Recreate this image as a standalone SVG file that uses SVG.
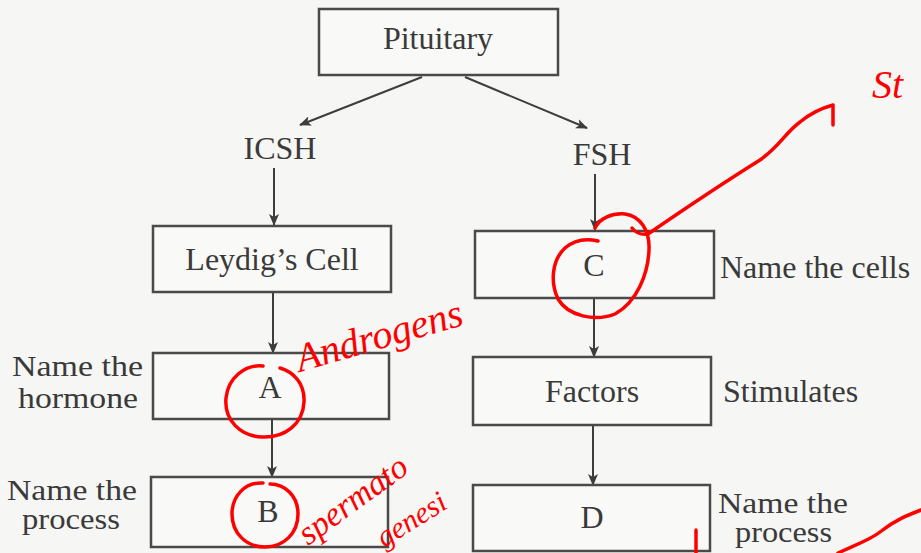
<svg xmlns="http://www.w3.org/2000/svg" width="921" height="553" viewBox="0 0 921 553">
<defs>
<marker id="ah" markerWidth="12" markerHeight="10" refX="11" refY="5" orient="auto" markerUnits="userSpaceOnUse">
<path d="M0,0 L12,5 L0,10 L3,5 Z" fill="#3d3d3d"/>
</marker>
<style>
.box{fill:#f9f9f7;stroke:#4a4a4a;stroke-width:2.5}
.t{font-family:"Liberation Serif","Times New Roman",serif;font-size:32px;fill:#3a3a3a}
.s{font-size:29px}
.c{text-anchor:middle}
.con{stroke:#3d3d3d;stroke-width:2;fill:none;marker-end:url(#ah)}
.red{stroke:#ff0000;stroke-width:3.5;fill:none;stroke-linecap:round;stroke-linejoin:round}
.rt{font-family:"Liberation Serif","Times New Roman",serif;font-style:italic;fill:#ff0000}
</style>
</defs>
<rect width="921" height="553" fill="#f6f6f4"/>

<g id="connectors">
<line class="con" x1="422" y1="77" x2="300" y2="125"/>
<line class="con" x1="465" y1="77" x2="587" y2="128"/>
<line class="con" x1="274" y1="168" x2="274" y2="225"/>
<line class="con" x1="595" y1="174" x2="595" y2="230"/>
<line class="con" x1="273" y1="292" x2="273" y2="353"/>
<line class="con" x1="594" y1="298" x2="594" y2="357"/>
<line class="con" x1="272" y1="419" x2="272" y2="477"/>
<line class="con" x1="593" y1="425" x2="593" y2="485"/>
</g>

<g id="pituitary">
<rect class="box" x="319" y="9" width="239" height="66"/>
<text class="t c" x="438" y="49">Pituitary</text>
</g>
<g id="icsh"><text class="t c" x="280" y="159">ICSH</text></g>
<g id="fsh"><text class="t c" x="602" y="165">FSH</text></g>

<g id="leydig">
<rect class="box" x="153" y="226" width="238" height="66"/>
<text class="t c" x="272" y="270">Leydig’s Cell</text>
</g>
<g id="nodeA">
<rect class="box" x="153" y="353" width="236" height="66"/>
<text class="t c" x="270" y="398">A</text>
</g>
<g id="nodeB">
<rect class="box" x="151" y="477" width="237" height="70"/>
<text class="t c" x="268" y="522">B</text>
</g>
<g id="nodeC">
<rect class="box" x="475" y="231" width="239" height="67"/>
<text class="t c" x="594" y="276">C</text>
</g>
<g id="factors">
<rect class="box" x="473" y="357" width="238" height="68"/>
<text class="t c" x="592" y="402">Factors</text>
</g>
<g id="nodeD">
<rect class="box" x="473" y="485" width="237" height="66"/>
<text class="t c" x="592" y="528">D</text>
</g>

<g id="labels">
<text class="t s" x="12" y="376" textLength="131" lengthAdjust="spacingAndGlyphs">Name the</text>
<text class="t s" x="18" y="408" textLength="120" lengthAdjust="spacingAndGlyphs">hormone</text>
<text class="t s" x="7" y="500" textLength="130" lengthAdjust="spacingAndGlyphs">Name the</text>
<text class="t s" x="22" y="529" textLength="98" lengthAdjust="spacingAndGlyphs">process</text>
<text class="t" x="720" y="278">Name the cells</text>
<text class="t" x="723" y="402">Stimulates</text>
<text class="t s" x="718" y="513" textLength="130" lengthAdjust="spacingAndGlyphs">Name the</text>
<text class="t s" x="735" y="542" textLength="97" lengthAdjust="spacingAndGlyphs">process</text>
</g>

<g id="annotations">
<path class="red" d="M263,366 C245,364 228,378 226,398 C224,420 240,436 262,437 C285,438 303,424 304,402 C305,384 294,372 280,368"/>
<path class="red" d="M263,483 C245,482 232,496 232,514 C232,533 246,547 265,547 C284,547 298,533 298,514 C298,496 285,484 270,484"/>
<path class="red" d="M595,228 C600,218 612,213 625,214 C640,216 650,230 649,250 C648,274 637,302 615,314 C595,322 568,316 558,299 C550,282 552,260 565,248 C573,241 585,238 598,241"/>
<path class="red" d="M632,228 C636,233 640,235 648,234 C680,212 720,185 760,160 C780,146 785,133 800,122 C812,112 822,108 833,105 L833,125"/>
<path class="red" d="M696,530 L696,553"/>
<path class="red" d="M838,553 C855,545 870,540 880,532 C895,520 908,515 921,510"/>
<text class="rt" x="300" y="372" font-size="40" transform="rotate(-16 300 372)">Androgens</text>
<text class="rt" x="308" y="546" font-size="34" transform="rotate(-36 308 546)">spermato</text>
<text class="rt" x="384" y="548" font-size="30" transform="rotate(-32 384 548)">genesi</text>
<text class="rt" x="872" y="98" font-size="40">St</text>
</g>
</svg>
